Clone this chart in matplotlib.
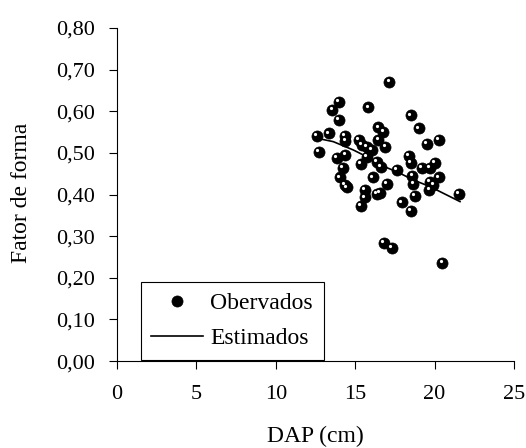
import matplotlib.pyplot as plt
import matplotlib.transforms as mtransforms
from matplotlib.ticker import FuncFormatter

plt.rcParams['font.family'] = ['Liberation Serif', 'DejaVu Serif']

# observed values (DAP cm, fator de forma)
dap = [17.15, 13.98, 13.56, 13.98, 15.83, 18.49, 19.02, 12.61, 13.35, 14.36,
       14.38, 16.46, 16.77, 16.46, 15.22, 15.41, 15.72, 16.04, 16.90, 19.52,
       20.28, 12.72, 14.38, 13.83, 15.72, 15.35, 16.35, 16.62, 17.61, 18.39,
       18.49, 19.19, 19.71, 20.03, 14.25, 14.04, 14.36, 14.46, 16.14, 16.98,
       18.60, 18.66, 19.71, 20.28, 19.67, 19.92, 15.62, 16.35, 16.56, 15.62,
       15.35, 18.77, 17.93, 18.49, 21.54, 16.83, 17.30, 20.49]
ff = [0.670, 0.623, 0.603, 0.579, 0.609, 0.590, 0.559, 0.541, 0.547, 0.541,
      0.529, 0.561, 0.551, 0.531, 0.531, 0.519, 0.515, 0.507, 0.515, 0.521,
      0.531, 0.503, 0.495, 0.487, 0.491, 0.473, 0.479, 0.467, 0.459, 0.493,
      0.475, 0.463, 0.463, 0.475, 0.463, 0.441, 0.423, 0.417, 0.441, 0.425,
      0.445, 0.425, 0.431, 0.441, 0.411, 0.423, 0.411, 0.401, 0.403, 0.393,
      0.373, 0.397, 0.381, 0.361, 0.401, 0.283, 0.271, 0.235]

# estimated curve
est_x = [12.61, 13.62, 14.88, 15.72, 16.56, 17.61, 18.66, 19.71, 20.55, 21.6]
est_y = [0.535, 0.527, 0.507, 0.491, 0.471, 0.455, 0.435, 0.419, 0.403, 0.383]

fig = plt.figure(figsize=(5.26, 4.48), dpi=100)
ax = fig.add_axes([0.2224, 0.194, 0.7548, 0.7436])

ax.plot(est_x, est_y, color='black', lw=1.2, label='Estimados', zorder=2)
ax.plot(dap, ff, 'o', color='black', ms=8, mec='black', mew=0.5,
        label='Obervados', zorder=3)
# little white highlight on each ball
hl = mtransforms.offset_copy(ax.transData, fig=fig, x=-1.3, y=1.3, units='points')
ax.plot(dap, ff, 'o', color='white', ms=2.3, mew=0, transform=hl, zorder=4)

ax.set_xlim(0, 25)
ax.set_ylim(0, 0.8)
ax.set_xticks([0, 5, 10, 15, 20, 25])
ax.set_yticks([i / 10 for i in range(9)])
ax.yaxis.set_major_formatter(FuncFormatter(lambda v, p: f'{v:.2f}'.replace('.', ',')))
ax.tick_params(direction='out', length=6, width=0.8, labelsize=16)
ax.tick_params(axis='y', pad=10)
ax.tick_params(axis='x', pad=11)

for s in ['top', 'right']:
    ax.spines[s].set_visible(False)
for s in ['left', 'bottom']:
    ax.spines[s].set_linewidth(0.8)

ax.set_xlabel('DAP (cm)', fontsize=17, labelpad=16)
ax.set_ylabel('Fator de forma', fontsize=17)
ax.yaxis.set_label_coords(-0.214, 0.505)

h, l = ax.get_legend_handles_labels()
leg = ax.legend([h[1], h[0]], [l[1], l[0]], loc='lower left',
                bbox_to_anchor=(0.06, 0.003), fontsize=17, frameon=True,
                fancybox=False, edgecolor='black', framealpha=1,
                borderaxespad=0, handlelength=2.2, handletextpad=0.3,
                labelspacing=0.6, borderpad=0.45)
leg.get_frame().set_linewidth(0.8)

fig.savefig('out.png', dpi=100)
